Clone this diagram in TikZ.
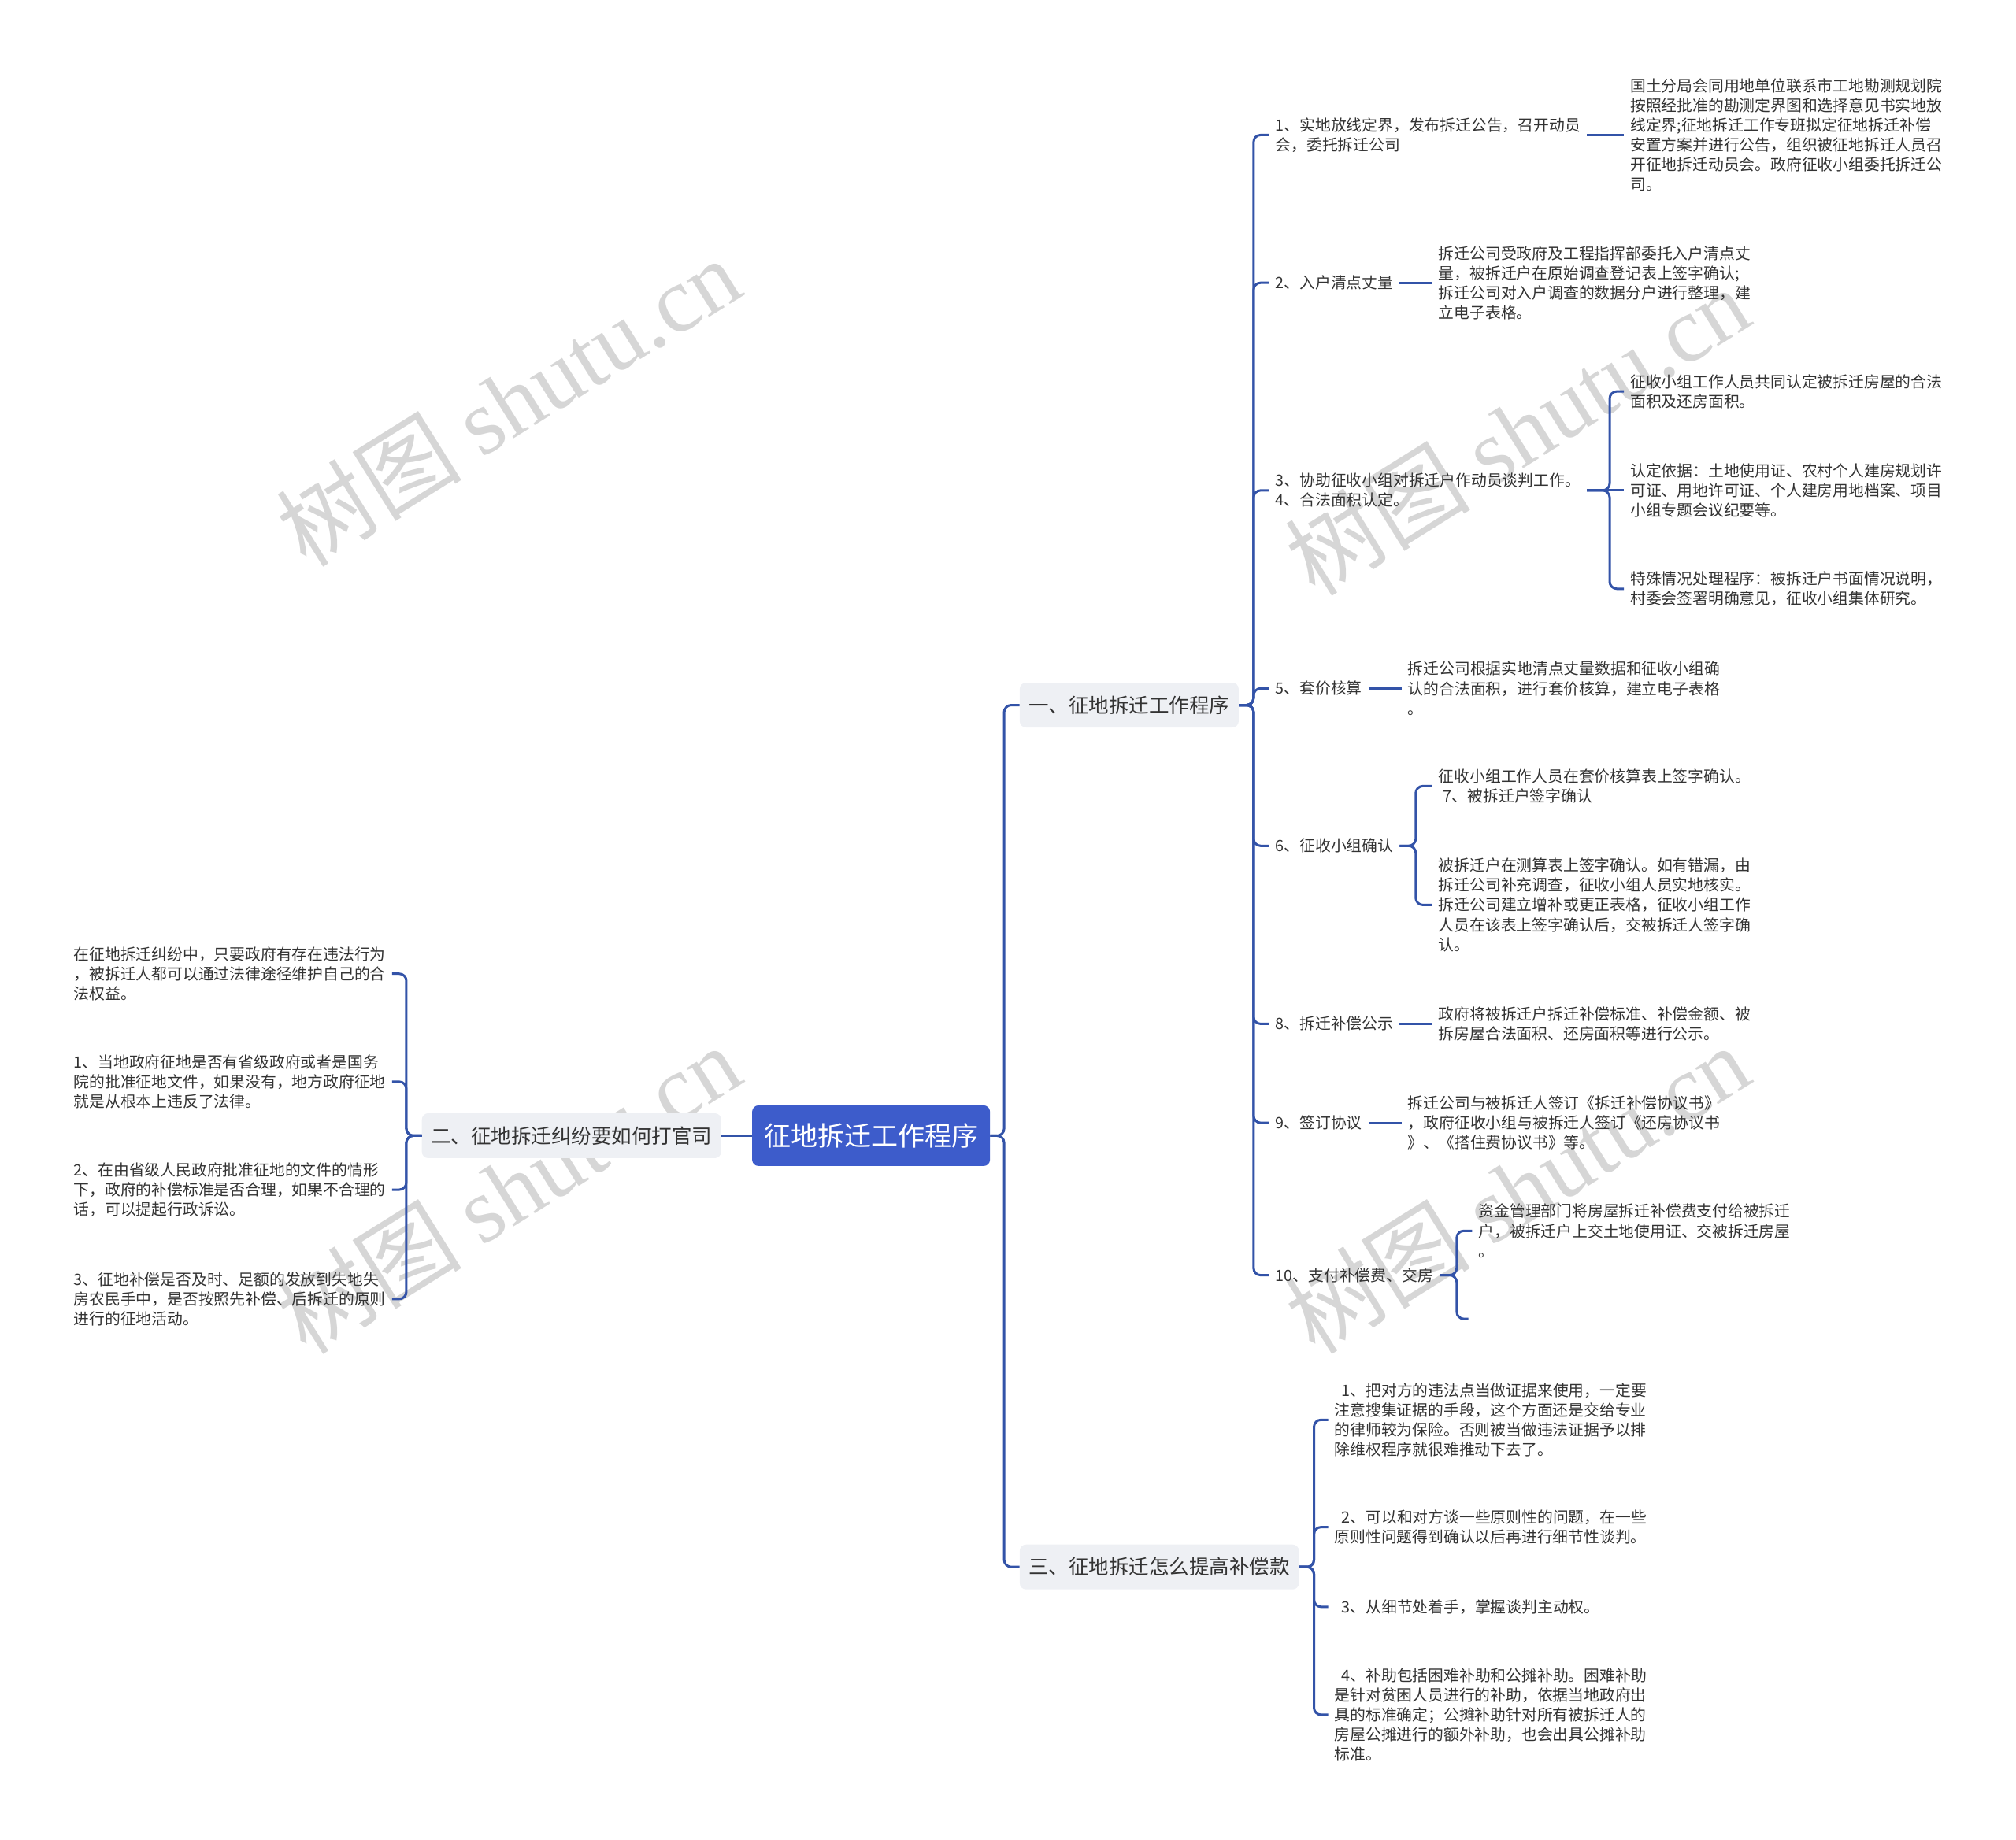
\documentclass[tikz,border=0pt]{standalone}
\usepackage{fontspec}
\setmainfont{Noto Sans CJK SC}
\newfontfamily\wmserif{Liberation Serif}
\newfontfamily\wmcjk{Noto Sans CJK SC}
\usetikzlibrary{calc}
\definecolor{linec}{HTML}{3353A8}
\definecolor{rootc}{HTML}{3D5CCB}
\definecolor{branchc}{HTML}{EEF0F4}
\definecolor{txtc}{HTML}{333333}
\definecolor{wmc}{HTML}{D6D6D6}
\tikzset{
  rootbox/.style={fill=rootc, rounded corners=8pt, text=white, font=\fontsize{34}{40}\selectfont, minimum width=302pt, minimum height=77pt, inner sep=0pt},
  branchbox/.style={fill=branchc, rounded corners=8pt, text=txtc, font=\fontsize{25.5}{30}\selectfont, minimum height=57pt, inner xsep=11.5pt, inner ysep=0pt},
  leaf/.style={font=\fontsize{19.8}{25.1}\selectfont, text=txtc, align=left, inner xsep=8pt, inner ysep=1pt},
  conn/.style={draw=linec, line width=3pt, rounded corners=9pt},
  wm/.style={text=wmc, font=\fontsize{118}{124}\selectfont, rotate=32, inner sep=0pt}
}
\begin{document}
\begin{tikzpicture}[x=1.6327pt,y=-1.6327pt]
\useasboundingbox (0,0) rectangle (1568,1431);

% watermarks (behind everything)
\node[wm] (w1) at (395,312) {\wmcjk 树图 \wmserif shutu.cn};
\node[wm] (w2) at (1180,335) {\wmcjk 树图 \wmserif shutu.cn};
\node[wm] (w3) at (395,925) {\wmcjk 树图 \wmserif shutu.cn};
\node[wm] (w4) at (1180,925) {\wmcjk 树图 \wmserif shutu.cn};

% root and main branches
\node[rootbox] (root) at (677.5,883.5) {征地拆迁工作程序};
\node[branchbox, anchor=west] (b1) at (793,548.5) {一、征地拆迁工作程序};
\node[branchbox, anchor=east] (b2) at (561,883.5) {二、征地拆迁纠纷要如何打官司};
\node[branchbox, anchor=west] (b3) at (793,1219) {三、征地拆迁怎么提高补偿款};

% branch 1 children
\node[leaf, anchor=west] (c1) at (987,105) {1、实地放线定界，发布拆迁公告，召开动员\\会，委托拆迁公司};
\node[leaf, anchor=west] (d1) at (1263,105) {国土分局会同用地单位联系市工地勘测规划院\\按照经批准的勘测定界图和选择意见书实地放\\线定界;征地拆迁工作专班拟定征地拆迁补偿\\安置方案并进行公告，组织被征地拆迁人员召\\开征地拆迁动员会。政府征收小组委托拆迁公\\司。};
\node[leaf, anchor=west] (c2) at (987,220) {2、入户清点丈量};
\node[leaf, anchor=west] (d2) at (1114,220) {拆迁公司受政府及工程指挥部委托入户清点丈\\量，被拆迁户在原始调查登记表上签字确认;\\拆迁公司对入户调查的数据分户进行整理，建\\立电子表格。};
\node[leaf, anchor=west] (c3) at (987,381.5) {3、协助征收小组对拆迁户作动员谈判工作。\\4、合法面积认定。};
\node[leaf, anchor=west] (s3a) at (1263,304.5) {征收小组工作人员共同认定被拆迁房屋的合法\\面积及还房面积。};
\node[leaf, anchor=west] (s3b) at (1263,381.5) {认定依据：土地使用证、农村个人建房规划许\\可证、用地许可证、个人建房用地档案、项目\\小组专题会议纪要等。};
\node[leaf, anchor=west] (s3c) at (1263,458) {特殊情况处理程序：被拆迁户书面情况说明，\\村委会签署明确意见，征收小组集体研究。};
\node[leaf, anchor=west] (c5) at (987,535.5) {5、套价核算};
\node[leaf, anchor=west] (d5) at (1090,535.5) {拆迁公司根据实地清点丈量数据和征收小组确\\认的合法面积，进行套价核算，建立电子表格\\。};
\node[leaf, anchor=west] (c6) at (987,658) {6、征收小组确认};
\node[leaf, anchor=west] (s6a) at (1114,611.5) {征收小组工作人员在套价核算表上签字确认。\\\hspace*{0.3em}7、被拆迁户签字确认};
\node[leaf, anchor=west] (s6b) at (1114,704) {被拆迁户在测算表上签字确认。如有错漏，由\\拆迁公司补充调查，征收小组人员实地核实。\\拆迁公司建立增补或更正表格，征收小组工作\\人员在该表上签字确认后，交被拆迁人签字确\\认。};
\node[leaf, anchor=west] (c8) at (987,796.5) {8、拆迁补偿公示};
\node[leaf, anchor=west] (d8) at (1114,796.5) {政府将被拆迁户拆迁补偿标准、补偿金额、被\\拆房屋合法面积、还房面积等进行公示。};
\node[leaf, anchor=west] (c9) at (987,873.5) {9、签订协议};
\node[leaf, anchor=west] (d9) at (1090,873.5) {拆迁公司与被拆迁人签订《拆迁补偿协议书》\\，政府征收小组与被拆迁人签订《还房协议书\\》、《搭住费协议书》等。};
\node[leaf, anchor=west] (c10) at (987,992) {10、支付补偿费、交房};
\node[leaf, anchor=west] (s10a) at (1145,957.5) {资金管理部门将房屋拆迁补偿费支付给被拆迁\\户，被拆迁户上交土地使用证、交被拆迁房屋\\。};
\coordinate (s10b) at (1142,1026);

% branch 2 children
\node[leaf, anchor=east] (l1) at (305,757.5) {在征地拆迁纠纷中，只要政府有存在违法行为\\，被拆迁人都可以通过法律途径维护自己的合\\法权益。};
\node[leaf, anchor=east] (l2) at (305,841.5) {1、当地政府征地是否有省级政府或者是国务\\院的批准征地文件，如果没有，地方政府征地\\就是从根本上违反了法律。};
\node[leaf, anchor=east] (l3) at (305,925.5) {2、在由省级人民政府批准征地的文件的情形\\下，政府的补偿标准是否合理，如果不合理的\\话，可以提起行政诉讼。};
\node[leaf, anchor=east] (l4) at (305,1010.5) {3、征地补偿是否及时、足额的发放到失地失\\房农民手中，是否按照先补偿、后拆迁的原则\\进行的征地活动。};

% branch 3 children
\node[leaf, anchor=west] (t1) at (1033,1104.5) {\hspace*{0.45em}1、把对方的违法点当做证据来使用，一定要\\注意搜集证据的手段，这个方面还是交给专业\\的律师较为保险。否则被当做违法证据予以排\\除维权程序就很难推动下去了。};
\node[leaf, anchor=west] (t2) at (1033,1188) {\hspace*{0.45em}2、可以和对方谈一些原则性的问题，在一些\\原则性问题得到确认以后再进行细节性谈判。};
\node[leaf, anchor=west] (t3) at (1033,1250) {\hspace*{0.45em}3、从细节处着手，掌握谈判主动权。};
\node[leaf, anchor=west] (t4) at (1033,1334) {\hspace*{0.45em}4、补助包括困难补助和公摊补助。困难补助\\是针对贫困人员进行的补助，依据当地政府出\\具的标准确定；公摊补助针对所有被拆迁人的\\房屋公摊进行的额外补助，也会出具公摊补助\\标准。};

% connectors: root
\draw[conn] (root.west) -- (b2.east);
\foreach \b in {b1,b3} \draw[conn] (root.east) -| ([xshift=-19.6pt]\b.west) -- (\b.west);
% branch 1
\foreach \c in {c1,c2,c3,c5,c6,c8,c9,c10} \draw[conn] (b1.east) -| ([xshift=-19.6pt]\c.west) -- (\c.west);
\draw[conn] (c1.east) -- (d1.west);
\draw[conn] (c2.east) -- (d2.west);
\draw[conn] (c5.east) -- (d5.west);
\draw[conn] (c8.east) -- (d8.west);
\draw[conn] (c9.east) -- (d9.west);
\draw[conn] (c3.east) -- (s3b.west);
\foreach \s in {s3a,s3c} \draw[conn] (c3.east) -| ([xshift=-18pt]\s.west) -- (\s.west);
\foreach \s in {s6a,s6b} \draw[conn] (c6.east) -| ([xshift=-21pt]\s.west) -- (\s.west);
\draw[conn] (c10.east) -| ([xshift=-19.6pt]s10a.west) -- (s10a.west);
\draw[conn] (c10.east) -| ([xshift=-14.7pt]s10b) -- (s10b);
% branch 2
\foreach \l in {l1,l2,l3,l4} \draw[conn] (b2.west) -| ([xshift=18pt]\l.east) -- (\l.east);
% branch 3
\foreach \t in {t1,t2,t3,t4} \draw[conn] (b3.east) -| ([xshift=-18pt]\t.west) -- (\t.west);
\end{tikzpicture}
\end{document}
